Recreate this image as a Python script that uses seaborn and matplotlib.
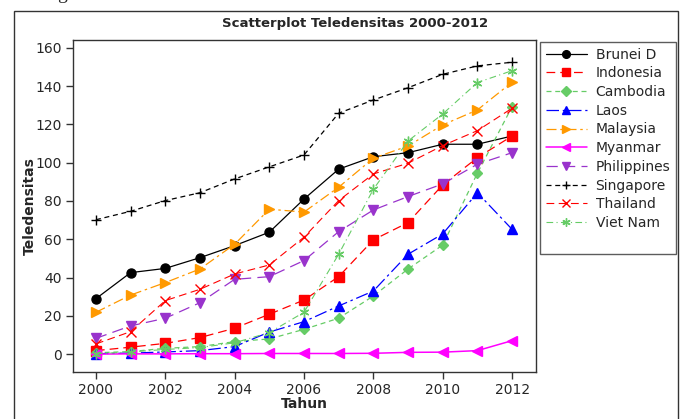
import matplotlib
matplotlib.use('Agg')
import matplotlib.pyplot as plt
from matplotlib.lines import Line2D
from matplotlib.patches import Rectangle
import pandas as pd
import seaborn as sns

years = list(range(2000, 2013))

brunei = [29.0, 42.6, 44.8, 50.4, 56.7, 63.7, 81.0, 96.6, 103.1, 105.2, 109.6, 109.6, 113.9]
indonesia = [1.9, 3.7, 5.7, 8.7, 13.6, 20.9, 28.3, 40.5, 59.7, 68.7, 88.4, 102.6, 113.9]
cambodia = [0.8, 1.4, 3.1, 4.0, 6.6, 8.0, 13.0, 18.8, 30.4, 44.5, 57.0, 94.5, 129.2]
laos = [0.3, 0.6, 1.2, 1.9, 4.0, 11.6, 17.0, 25.2, 33.0, 52.2, 62.8, 84.3, 65.2]
malaysia = [21.9, 30.9, 37.4, 44.5, 57.4, 75.7, 74.2, 87.2, 102.3, 108.7, 119.7, 127.5, 142.0]
myanmar = [0.1, 0.2, 0.2, 0.3, 0.3, 0.4, 0.4, 0.4, 0.5, 1.0, 1.1, 1.9, 7.1]
philippines = [8.3, 14.8, 18.8, 26.9, 39.1, 40.5, 48.9, 64.0, 75.3, 82.3, 88.9, 99.2, 105.2]
singapore = [70.2, 74.6, 80.2, 84.3, 91.5, 97.8, 104.0, 125.8, 132.7, 139.1, 146.1, 150.5, 152.4]
thailand = [5.4, 11.8, 28.0, 33.9, 41.9, 46.6, 61.1, 80.2, 94.1, 99.7, 108.9, 116.7, 128.4]
vietnam = [0.3, 1.2, 2.5, 3.5, 6.0, 11.3, 21.9, 52.2, 86.1, 111.3, 125.4, 141.8, 148.0]

countries = ['Brunei D', 'Indonesia', 'Cambodia', 'Laos', 'Malaysia',
             'Myanmar', 'Philippines', 'Singapore', 'Thailand', 'Viet Nam']
series = [brunei, indonesia, cambodia, laos, malaysia,
          myanmar, philippines, singapore, thailand, vietnam]

# minitab-ish symbol / connect line styles
styles = {
    'Brunei D':    dict(color='black',   marker='o', ms=6.5, ls='-',             lw=0.9),
    'Indonesia':   dict(color='#ff0000', marker='s', ms=6.5, ls=(0, (7, 4)),    lw=0.9),
    'Cambodia':    dict(color='#66cc66', marker='D', ms=5.5, ls=(0, (4, 3)),    lw=0.9),
    'Laos':        dict(color='#0000ff', marker='^', ms=7,   ls=(0, (10, 3, 2, 3)), lw=0.9),
    'Malaysia':    dict(color='#ff9900', marker='>', ms=7,   ls=(0, (8, 3, 2, 3)),  lw=0.9),
    'Myanmar':     dict(color='#ff00ff', marker='<', ms=7,   ls='-',             lw=1.1),
    'Philippines': dict(color='#9933cc', marker='v', ms=7,   ls=(0, (9, 5)),     lw=0.9),
    'Singapore':   dict(color='black',   marker='+', ms=7,   ls=(0, (4, 3)),     lw=0.9),
    'Thailand':    dict(color='#ff0000', marker='x', ms=6.5, ls=(0, (7, 4)),     lw=0.8),
    'Viet Nam':    dict(color='#66cc66', marker=(6, 2, 0), ms=7, ls=(0, (6, 3, 1, 3)), lw=0.8),
}

df = pd.DataFrame({'Tahun': years * len(countries),
                   'Teledensitas': sum(series, []),
                   'Negara': [c for c in countries for _ in years]})

sns.set_style('white')
plt.rcParams['font.family'] = ['DejaVu Sans']

fig = plt.figure(figsize=(6.87, 4.19), dpi=100)
ax = fig.add_axes([0.1058, 0.1129, 0.6744, 0.7916])

handles = []
for c in countries:
    st = styles[c]
    sub = df[df['Negara'] == c]
    sns.lineplot(data=sub, x='Tahun', y='Teledensitas', ax=ax, color=st['color'],
                 marker=st['marker'], markersize=st['ms'], linestyle=st['ls'],
                 linewidth=st['lw'], markeredgewidth=1.0, markeredgecolor=st['color'],
                 legend=False)
    handles.append(Line2D([], [], color=st['color'], marker=st['marker'],
                          markersize=st['ms'] * 0.85, linestyle=st['ls'],
                          linewidth=st['lw'], markeredgewidth=1.0, label=c))
handles.append(Line2D([], [], linestyle='none', label=' '))

ax.set_xlim(1999.33, 2012.69)
ax.set_ylim(-9.1, 164)
ax.set_xticks(range(2000, 2013, 2))
ax.set_yticks(range(0, 161, 20))
ax.tick_params(direction='out', length=5, width=1, color='#333333', labelsize=10,
               left=True, bottom=True, pad=3)
for s in ax.spines.values():
    s.set_color('#333333')
    s.set_linewidth(1.0)
ax.set_xlabel('Tahun', fontsize=10, fontweight='bold', labelpad=0)
ax.set_ylabel('Teledensitas', fontsize=10, fontweight='bold', labelpad=-1)

fig.text(0.517, 0.943, 'Scatterplot Teledensitas 2000-2012', ha='center', va='center',
         fontsize=9.5, fontweight='bold')

leg = fig.legend(handles=handles, loc='upper left', bbox_to_anchor=(540 / 687, 1 - 42 / 419),
                 frameon=True, fancybox=False, edgecolor='#333333', fontsize=10,
                 handlelength=3.0, handletextpad=0.6, labelspacing=0.34,
                 borderpad=0.4, borderaxespad=0)
leg.get_frame().set_linewidth(1.0)

# outer graph frame
fig.patches.append(Rectangle((14 / 687, -0.1), 664 / 687, 0.1 + (1 - 11 / 419),
                             transform=fig.transFigure, fill=False,
                             edgecolor='#333333', linewidth=1.0))
fig.text(57 / 687, 1.012, 'g', family='Liberation Serif', fontsize=14, va='center')

fig.savefig('out.png', dpi=100)
